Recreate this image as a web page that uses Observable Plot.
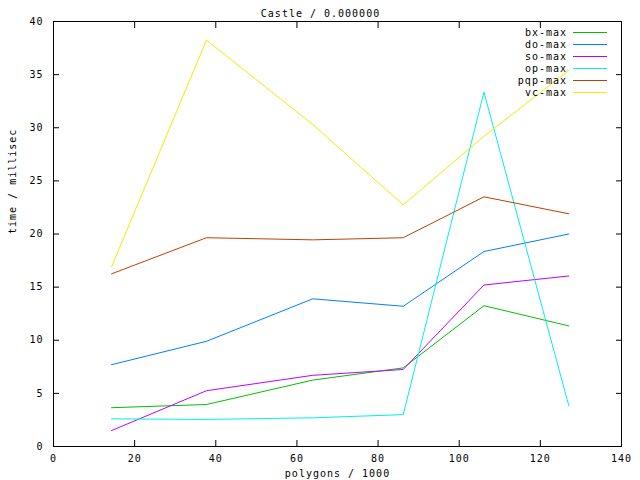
<!DOCTYPE html>
<html><head><meta charset="utf-8">
<script src="https://cdn.jsdelivr.net/npm/d3@7"></script>
<script src="https://cdn.jsdelivr.net/npm/@observablehq/plot@0.6"></script>
<style>body{margin:0;background:#fff}</style>
</head><body><div id="chart"></div>
<script>
const polygons = [14.3, 37.7, 63.9, 86.2, 106.1, 127.0];
const seriesNames = ["bx-max", "do-max", "so-max", "op-max", "pqp-max", "vc-max"];
const seriesColors = ["#00c000", "#0080ff", "#c000ff", "#00eeee", "#c04000", "#eeee00"];
const bxMax  = [3.65, 3.95, 6.25, 7.4, 13.25, 11.35];
const doMax  = [7.7, 9.9, 13.9, 13.2, 18.35, 20.0];
const soMax  = [1.5, 5.25, 6.7, 7.25, 15.2, 16.05];
const opMax  = [2.6, 2.55, 2.7, 3.0, 33.35, 3.85];
const pqpMax = [16.25, 19.65, 19.45, 19.65, 23.5, 21.9];
const vcMax  = [16.9, 38.25, 30.3, 22.75, 29.2, 35.4];
const xTicks = [0, 20, 40, 60, 80, 100, 120, 140];
const yTicks = [0, 5, 10, 15, 20, 25, 30, 35, 40];
const titleText = "Castle / 0.000000";
const xLabel = "polygons / 1000";
const yLabel = "time / millisec";

const allSeries = [bxMax, doMax, soMax, opMax, pqpMax, vcMax];
const data = allSeries.flatMap((vals, si) =>
  vals.map((v, i) => ({series: seriesNames[si], x: polygons[i], y: v})));

const font = "DejaVu Sans Mono";
const chart = Plot.plot({
  width: 640, height: 480,
  marginLeft: 53, marginRight: 19, marginTop: 21, marginBottom: 34,
  style: {fontFamily: font, fontSize: "10px", letterSpacing: "1px", background: "#fff", color: "#000"},
  x: {domain: [0, 140]},
  y: {domain: [0, 40]},
  color: {domain: seriesNames, range: seriesColors},
  marks: [
    Plot.lineY(data, {x: "x", y: "y", z: "series", stroke: "series", strokeWidth: 1}),
    Plot.frame({stroke: "#000"}),
    Plot.axisX(xTicks, {anchor: "bottom", tickSize: -6, tickPadding: 14, label: null}),
    Plot.axisX(xTicks, {anchor: "top", tickSize: -6, tickFormat: () => "", label: null}),
    Plot.axisY(yTicks, {anchor: "left", tickSize: -6, tickPadding: 16, label: null}),
    Plot.axisY(yTicks, {anchor: "right", tickSize: -6, tickFormat: () => "", label: null}),
    Plot.text([titleText], {frameAnchor: "top", dx: -17, dy: -8, lineAnchor: "middle"}),
    Plot.text([xLabel], {frameAnchor: "bottom", dy: 27, lineAnchor: "middle"}),
    Plot.text([yLabel], {frameAnchor: "left", dx: -41, rotate: -90, lineAnchor: "middle"})
  ]
});
document.getElementById("chart").append(chart);

// legend (top-right, gnuplot style)
const svg = d3.select(chart);
const leg = svg.append("g").attr("font-family", font).attr("font-size", "10px").attr("letter-spacing", "1px");
seriesNames.forEach((name, i) => {
  const y = 32.5 + 12 * i;
  leg.append("text").attr("x", 567).attr("y", y).attr("dy", "0.32em")
    .attr("text-anchor", "end").attr("fill", "#000").text(name);
  leg.append("line").attr("x1", 573).attr("x2", 607).attr("y1", y).attr("y2", y)
    .attr("stroke", seriesColors[i]).attr("stroke-width", 1);
});
</script>
</body></html>
